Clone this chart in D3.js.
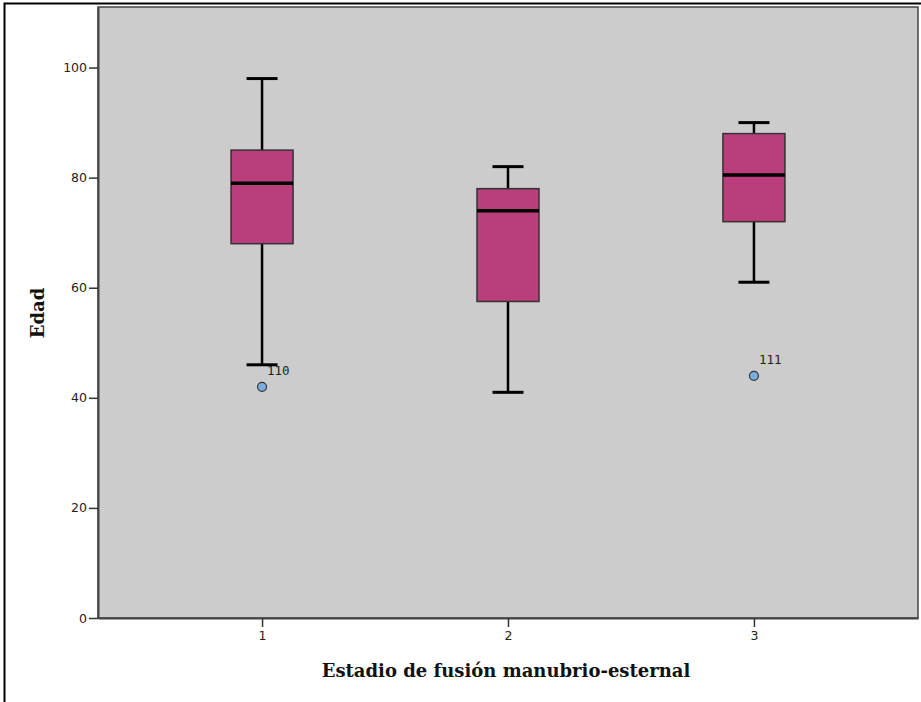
<!DOCTYPE html>
<html lang='es'>
  <head>
    <meta charset='utf-8'>
    <title>Edad por estadio</title>
    <script type='text/javascript' src='https://cdn.jsdelivr.net/npm/d3@7/dist/d3.min.js'></script>
    <style type='text/css'>
      body { margin: 0; background-color: white; }
      svg { display: block; }
      .tick text { font-family: 'DejaVu Sans', sans-serif; font-size: 12.5px; fill: #222; }
      .axis-title { font-family: 'DejaVu Serif', serif; font-weight: bold; font-size: 18px; fill: #111; }
      .outlier-label { font-family: 'DejaVu Sans Mono', monospace; font-size: 12.5px; fill: #222; }
    </style>
  </head>
  <body>
    <div id='chart'></div>
    <script type='text/javascript'>

    // Datos
    var groups = ['1', '2', '3'];
    var whiskerLow = [46, 41, 61];
    var q1 = [68, 57.5, 72];
    var median = [79, 74, 80.5];
    var q3 = [85, 78, 88];
    var whiskerHigh = [98, 82, 90];
    var outlierGroup = ['1', '3'];
    var outlierValue = [42, 44];
    var outlierId = ['110', '111'];
    var yTicks = [0, 20, 40, 60, 80, 100];

    // Dimensiones
    var W = 921, H = 702;
    var margin = { top: 7, right: 3, bottom: 84, left: 98 },
        width = W - margin.left - margin.right,
        height = H - margin.top - margin.bottom;

    var svgRoot = d3.select('#chart')
      .append('svg')
      .attr('width', W)
      .attr('height', H);

    // marco exterior (solo izquierda y arriba visibles)
    svgRoot.append('path')
      .attr('d', 'M4.5,' + H + 'V3.5H' + W)
      .attr('fill', 'none')
      .attr('stroke', '#000')
      .attr('stroke-width', 2);

    var svg = svgRoot.append('g')
      .attr('transform', 'translate(' + margin.left + ',' + margin.top + ')');

    // Escalas
    var xScale = d3.scalePoint()
      .domain(groups)
      .range([0, width])
      .padding(0.667);

    var yScale = d3.scaleLinear()
      .domain([0, 111])
      .range([height, 0]);

    // fondo gris
    svg.append('rect')
      .attr('width', width)
      .attr('height', height)
      .attr('fill', '#cccccc')
      .attr('stroke', '#444')
      .attr('stroke-width', 1.5);

    // Ejes
    var yAxis = d3.axisLeft(yScale).tickValues(yTicks).tickSizeInner(9).tickSizeOuter(0).tickPadding(2);
    var xAxis = d3.axisBottom(xScale).tickSizeInner(9).tickSizeOuter(0).tickPadding(4);

    var gy = svg.append('g').attr('class', 'y axis').call(yAxis);
    var gx = svg.append('g').attr('class', 'x axis')
      .attr('transform', 'translate(0,' + height + ')')
      .call(xAxis);

    [gx, gy].forEach(function(g) {
      g.select('.domain').attr('stroke', '#444').attr('stroke-width', 2);
      g.selectAll('.tick line').attr('stroke', '#333').attr('stroke-width', 1.5);
    });

    // Cajas
    var boxW = 62, capW = 31;
    var boxes = svg.append('g').selectAll('g')
      .data(groups)
      .enter()
      .append('g');

    boxes.append('line') // bigote
      .attr('x1', function(d) { return xScale(d); })
      .attr('x2', function(d) { return xScale(d); })
      .attr('y1', function(d, i) { return yScale(whiskerLow[i]); })
      .attr('y2', function(d, i) { return yScale(whiskerHigh[i]); })
      .attr('stroke', '#000')
      .attr('stroke-width', 2.5);

    [whiskerLow, whiskerHigh].forEach(function(arr) {
      boxes.append('line')
        .attr('x1', function(d) { return xScale(d) - capW / 2; })
        .attr('x2', function(d) { return xScale(d) + capW / 2; })
        .attr('y1', function(d, i) { return yScale(arr[i]); })
        .attr('y2', function(d, i) { return yScale(arr[i]); })
        .attr('stroke', '#000')
        .attr('stroke-width', 3);
    });

    boxes.append('rect')
      .attr('x', function(d) { return xScale(d) - boxW / 2; })
      .attr('y', function(d, i) { return yScale(q3[i]); })
      .attr('width', boxW)
      .attr('height', function(d, i) { return yScale(q1[i]) - yScale(q3[i]); })
      .attr('fill', '#ba3d7c')
      .attr('stroke', '#333')
      .attr('stroke-width', 1.5);

    boxes.append('line') // mediana
      .attr('x1', function(d) { return xScale(d) - boxW / 2; })
      .attr('x2', function(d) { return xScale(d) + boxW / 2; })
      .attr('y1', function(d, i) { return yScale(median[i]); })
      .attr('y2', function(d, i) { return yScale(median[i]); })
      .attr('stroke', '#000')
      .attr('stroke-width', 3.5);

    // Valores atípicos
    svg.append('g').selectAll('circle')
      .data(outlierValue)
      .enter()
      .append('circle')
      .attr('cx', function(d, i) { return xScale(outlierGroup[i]); })
      .attr('cy', function(d) { return yScale(d); })
      .attr('r', 4.5)
      .attr('fill', '#79aee0')
      .attr('stroke', '#333')
      .attr('stroke-width', 1.2);

    svg.append('g').selectAll('text')
      .data(outlierValue)
      .enter()
      .append('text')
      .attr('class', 'outlier-label')
      .attr('x', function(d, i) { return xScale(outlierGroup[i]) + 5; })
      .attr('y', function(d) { return yScale(d) - 12; })
      .text(function(d, i) { return outlierId[i]; });

    // Títulos de ejes
    svgRoot.append('text')
      .attr('class', 'axis-title')
      .attr('x', 506)
      .attr('y', 677)
      .style('text-anchor', 'middle')
      .text('Estadio de fusión manubrio-esternal');

    svgRoot.append('text')
      .attr('class', 'axis-title')
      .attr('transform', 'translate(44,313) rotate(-90)')
      .style('text-anchor', 'middle')
      .text('Edad');

    </script>
  </body>
</html>
